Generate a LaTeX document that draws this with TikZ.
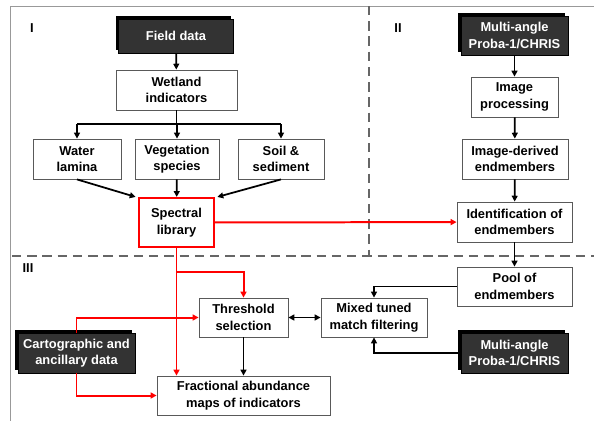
\documentclass[tikz,border=0pt]{standalone}
\usepackage{fontspec}
\setmainfont{Liberation Sans}
\usetikzlibrary{arrows.meta, shadows}
\newlength\pxu
\setlength\pxu{0.03cm}

\begin{document}
\begin{tikzpicture}[
        x=0.03cm, y=-0.03cm,
        every node/.style = {font=\fontsize{11}{14}\selectfont\bfseries},
        box/.style = {rectangle, draw=black!65, line width=0.7pt, fill=white, align=center, inner sep=0pt},
        dark box/.style = {box, draw=black, fill=black!80, text=white, drop shadow={shadow xshift=-2.5pt, shadow yshift=2.5pt, opacity=1, fill=black}},
        red box/.style = {box, draw=red, line width=1.8pt},
        arr/.style = {-{Triangle[length=5pt, width=5pt]}, line width=1.5pt},
        red arr/.style = {arr, draw=red, color=red, line width=1.7pt},
        divider/.style = {draw=black!60, line width=2.2pt, dash pattern=on 8pt off 5pt},
        ]
        \useasboundingbox (0,0) rectangle (594,421);

        % frame and panels
        \draw[draw=black!40, line width=0.8pt] (594,6) -- (10,6) -- (10,421);
        \draw[divider] (12,256) -- (594,256);
        \draw[divider] (369,6) -- (369,256);
        \node (lab1) at (32,28) {I};
        \node (lab2) at (398,28) {II};
        \node (lab3) at (28,268) {III};

        % Panel I
        \node[dark box, minimum width=115\pxu, minimum height=34\pxu] (field) at (176,36) {Field data};
        \node[box, minimum width=121\pxu, minimum height=40\pxu] (wetland) at (176.5,90) {Wetland\\indicators};
        \node[box, minimum width=88\pxu, minimum height=40\pxu] (water) at (77,159) {Water\\lamina};
        \node[box, minimum width=84\pxu, minimum height=40\pxu] (veget) at (177,159) {Vegetation\\species};
        \node[box, minimum width=86\pxu, minimum height=40\pxu] (soil) at (281,159) {Soil \&\\sediment};
        \node[red box, minimum width=75\pxu, minimum height=49\pxu] (spectral) at (176.5,222.5) {Spectral\\library};

        % Panel II
        \node[dark box, minimum width=107\pxu, minimum height=39\pxu] (chris1) at (514.5,35.5) {Multi-angle\\Proba-1/CHRIS};
        \node[box, minimum width=87\pxu, minimum height=40\pxu] (improc) at (514.5,97) {Image\\processing};
        \node[box, minimum width=106\pxu, minimum height=40\pxu] (imder) at (515,159) {Image-derived\\endmembers};
        \node[box, minimum width=115\pxu, minimum height=40\pxu] (ident) at (514.5,222) {Identification of\\endmembers};

        % Panel III
        \node[box, minimum width=115\pxu, minimum height=39\pxu] (pool) at (514.5,286.5) {Pool of\\endmembers};
        \node[box, minimum width=106\pxu, minimum height=39\pxu] (mixed) at (374,317.5) {Mixed tuned\\match filtering};
        \node[dark box, minimum width=107\pxu, minimum height=40\pxu] (chris2) at (514.5,353) {Multi-angle\\Proba-1/CHRIS};
        \node[box, minimum width=89\pxu, minimum height=39\pxu] (thresh) at (243.5,317.5) {Threshold\\selection};
        \node[box, minimum width=173\pxu, minimum height=39\pxu] (fract) at (243.5,395.5) {Fractional abundance\\maps of indicators};
        \node[dark box, minimum width=117\pxu, minimum height=40\pxu] (carto) at (76.5,353) {Cartographic and\\ancillary data};

        \coordinate (bus) at (176.5,124);
        \coordinate (rsplit) at (176.5,272);

        % black connectors
        \draw[arr] (field) -- (wetland);
        \draw[line width=1.5pt] (wetland.south) -- (bus);
        \draw[line width=1.5pt] (water.north |- bus) -- (soil.north |- bus);
        \draw[arr] (water.north |- bus) -- (water.north);
        \draw[arr] (veget.north |- bus) -- (veget.north);
        \draw[arr] (soil.north |- bus) -- (soil.north);
        \draw[arr] (water.south) -- ([xshift=-2pt]spectral.north west);
        \draw[arr] (veget) -- (spectral);
        \draw[arr] (soil.south) -- ([xshift=2pt]spectral.north east);

        \draw[arr] (chris1) -- (improc);
        \draw[arr] (improc) -- (imder);
        \draw[arr] (imder) -- (ident);
        \draw[arr] (ident) -- (pool);
        \draw[arr] (pool.west) -| (mixed.north);
        \draw[arr] (chris2.west) -| (mixed.south);
        \draw[arr, {Triangle[length=5pt, width=5pt]}-{Triangle[length=5pt, width=5pt]}] (thresh) -- (mixed);
        \draw[arr] (thresh) -- (fract);

        % red connectors
        \draw[red arr] (spectral) -- (ident);
        \draw[red arr] (spectral.south) -- (spectral.south |- fract.north);
        \draw[red arr] (rsplit) -| (thresh.north);
        \draw[red arr] (carto.north) |- (thresh.west);
        \draw[red arr] (carto.south) |- (fract.west);
\end{tikzpicture}
\end{document}
